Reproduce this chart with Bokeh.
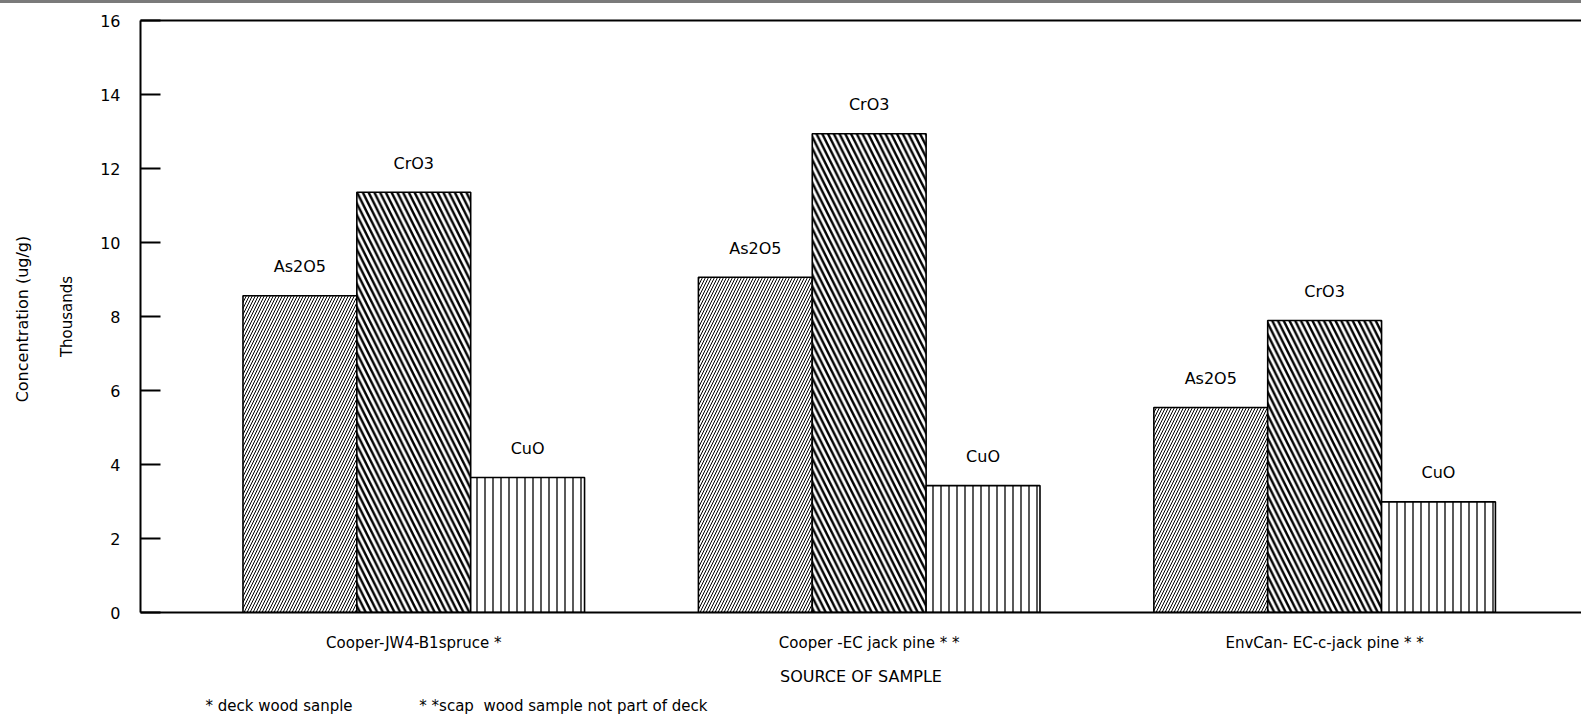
from bokeh.plotting import figure
from bokeh.models import Range1d, LinearAxis, FixedTicker, ColumnDataSource, Title, Div
from bokeh.layouts import column
from bokeh.embed import file_html
from bokeh.resources import INLINE
from bokeh.core.properties import value

# ---- data ----
samples = ["Cooper-JW4-B1spruce *", "Cooper -EC jack pine * *", "EnvCan- EC-c-jack pine * *"]
series = ["As2O5", "CrO3", "CuO"]
as2o5 = [8.56, 9.06, 5.54]
cro3 = [11.36, 12.94, 7.89]
cuo = [3.65, 3.43, 2.99]
y_ticks = [0, 2, 4, 6, 8, 10, 12, 14, 16]
footnote_a = "* deck wood sanple"
footnote_b = "* *scap\u00a0 wood sample not part of deck"

FONT = "DejaVu Sans"

p = figure(width=1581, height=718,
           x_range=Range1d(-0.6, 2.564), y_range=Range1d(0, 16),
           output_backend="svg", toolbar_location=None,
           min_border_left=140, min_border_right=0,
           min_border_top=17, min_border_bottom=109)
p.outline_line_color = None
p.background_fill_color = "white"
p.border_fill_color = "white"
p.xgrid.visible = False
p.ygrid.visible = False

xa = p.below[0]
ya = p.left[0]

styles = [
    ("As2O5", as2o5, "/", 6, 1.0),
    ("CrO3", cro3, "\\", 11.5, 2.4),
    ("CuO", cuo, "|", 8, 1.3),
]
width = 0.25
for j, (name, vals, hatch, scale, weight) in enumerate(styles):
    xs = [i + (j - 1) * width for i in range(len(samples))]
    src = ColumnDataSource(dict(x=xs, top=vals, label=[name] * len(vals)))
    p.vbar(x="x", top="top", bottom=0, width=width, source=src,
           fill_color="white", line_color="black", line_width=1.6,
           hatch_pattern=hatch, hatch_scale=scale, hatch_weight=weight,
           hatch_color="black")
    p.text(x="x", y="top", text="label", source=src,
           text_align="center", text_baseline="middle", y_offset=-29,
           text_font=value(FONT), text_font_size="16px", text_color="black")

# y axis (inner)
ya.ticker = FixedTicker(ticks=y_ticks)
ya.major_tick_in = 20
ya.major_tick_out = 0
ya.major_tick_line_width = 2
ya.major_tick_line_color = "black"
ya.minor_tick_line_color = None
ya.axis_line_width = 2
ya.axis_line_color = "black"
ya.major_label_standoff = 20
ya.major_label_text_font = FONT
ya.major_label_text_font_size = "16px"
ya.major_label_text_color = "black"
ya.axis_label = "Thousands"
ya.axis_label_text_font = FONT
ya.axis_label_text_font_size = "15px"
ya.axis_label_text_font_style = "normal"
ya.axis_label_text_color = "black"
ya.axis_label_standoff = 21

# outer y axis carrying the main title
ya2 = LinearAxis(ticker=FixedTicker(ticks=[]), axis_label="Concentration  (ug/g)")
ya2.axis_line_color = None
ya2.major_tick_line_color = None
ya2.minor_tick_line_color = None
ya2.major_tick_out = 0
ya2.major_tick_in = 0
ya2.major_label_standoff = 0
ya2.axis_label_text_font = FONT
ya2.axis_label_text_font_size = "16px"
ya2.axis_label_text_font_style = "normal"
ya2.axis_label_text_color = "black"
ya2.axis_label_standoff = 24
p.add_layout(ya2, "left")

# x axis
xa.ticker = FixedTicker(ticks=list(range(len(samples))))
xa.major_label_overrides = {i: s for i, s in enumerate(samples)}
xa.major_tick_line_color = None
xa.minor_tick_line_color = None
xa.major_tick_out = 0
xa.major_tick_in = 0
xa.axis_line_width = 2
xa.axis_line_color = "black"
xa.major_label_standoff = 21
xa.major_label_text_font = FONT
xa.major_label_text_font_size = "15px"
xa.major_label_text_color = "black"
xa.axis_label = "SOURCE OF SAMPLE"
xa.axis_label_text_font = FONT
xa.axis_label_text_font_size = "16px"
xa.axis_label_text_font_style = "normal"
xa.axis_label_text_color = "black"
xa.axis_label_standoff = 12

# top border line
ta = LinearAxis(ticker=FixedTicker(ticks=[]))
ta.axis_line_width = 2
ta.axis_line_color = "black"
ta.major_tick_line_color = None
ta.minor_tick_line_color = None
ta.major_tick_out = 0
ta.major_tick_in = 0
ta.major_label_standoff = 0
p.add_layout(ta, "above")

# footnote line below the axis title
gap = "\u00a0" * 14
p.add_layout(Title(text=footnote_a + gap + footnote_b, align="left", offset=65,
                   standoff=12, text_font=FONT, text_font_size="15px",
                   text_font_style="normal", text_color="black"), "below")

band = Div(text="", width=1581, height=3,
           styles={"background-color": "#7a7a7a", "margin": "0", "padding": "0"})
layout = column(band, p, spacing=0)

open("out.html", "w").write(file_html(layout, INLINE))
